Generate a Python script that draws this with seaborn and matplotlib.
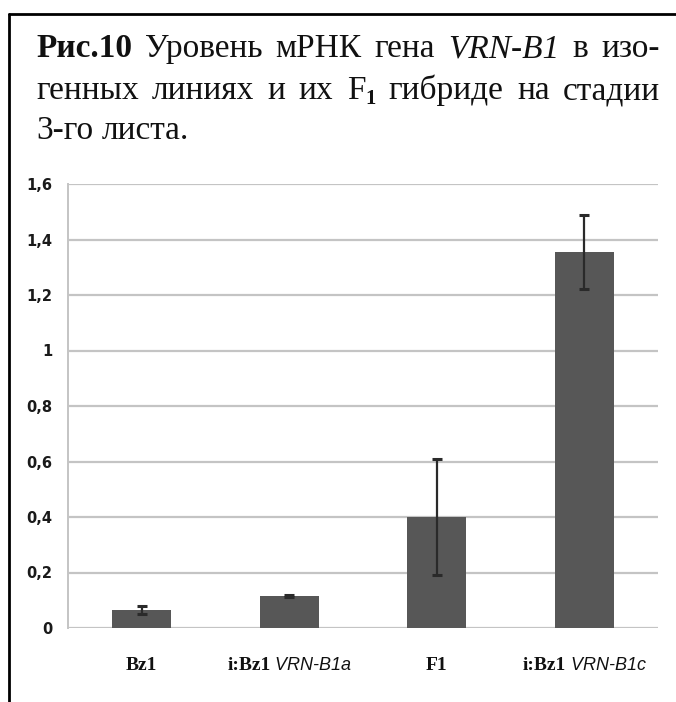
import numpy as np
import matplotlib
matplotlib.use('Agg')
import matplotlib.pyplot as plt
from matplotlib.lines import Line2D
import seaborn as sns

categories = ['Bz1', 'i:Bz1 VRN-B1a', 'F1', 'i:Bz1 VRN-B1c']
values = [0.065, 0.115, 0.40, 1.355]
errors = [0.013, 0.003, 0.21, 0.135]
yticks = [0, 0.2, 0.4, 0.6, 0.8, 1, 1.2, 1.4, 1.6]
ytick_labels = ['0', '0,2', '0,4', '0,6', '0,8', '1', '1,2', '1,4', '1,6']

# label fragments: (text, style)
xlabel_parts = [
    [('Bz1', 'b')],
    [('i:Bz1', 'b'), (' VRN-B1a', 'i')],
    [('F1', 'b')],
    [('i:Bz1', 'b'), (' VRN-B1c', 'i')],
]
# title words: (text, style), justified per line
title_lines = [
    [('Рис.10', 'b'), ('Уровень', 'n'), ('мРНК', 'n'), ('гена', 'n'), ('VRN-B1', 'i'), ('в', 'n'), ('изо-', 'n')],
    [('генных', 'n'), ('линиях', 'n'), ('и', 'n'), ('их', 'n'), (['F', '1'], 'sub'), ('гибриде', 'n'), ('на', 'n'), ('стадии', 'n')],
    [('3-го', 'n'), ('листа.', 'n')],
]
title_baselines = [57, 99, 139]
title_justify = [True, True, False]

W, H = 676, 702
sns.set_style('white')
fig = plt.figure(figsize=(W / 100, H / 100), dpi=100)
ax = fig.add_axes([68 / W, 1 - 628 / H, 590 / W, 444 / H])

sns.barplot(x=categories, y=values, color='#575757', saturation=1, width=0.4,
            errorbar=None, edgecolor='#575757', linewidth=0, ax=ax, zorder=3)
ax.errorbar(np.arange(len(values)), values, yerr=errors, fmt='none',
            ecolor='#2a2a2a', elinewidth=1.6, capsize=3.5, capthick=2.2, zorder=4)

ax.set_xlim(-0.5, 3.5)
ax.set_ylim(0, 1.6)
ax.set_yticks(yticks)
ax.set_yticklabels(ytick_labels, fontfamily=['Liberation Sans Narrow', 'DejaVu Sans'],
                   fontweight='bold', fontsize=10.5, color='#1a1a1a')
ax.set_xticks([])
ax.yaxis.grid(True, color='#c4c4c4', linewidth=1.6, zorder=0)
ax.set_axisbelow(True)
for s in ['top', 'right', 'bottom']:
    ax.spines[s].set_visible(False)
ax.spines['left'].set_color('#c4c4c4')
ax.spines['left'].set_linewidth(1.4)
ax.tick_params(axis='y', length=5, width=1.4, color='#c4c4c4', pad=6)
ax.set_xlabel('')
ax.set_ylabel('')

serif = ['Liberation Serif', 'DejaVu Serif']
sans = ['Liberation Sans', 'DejaVu Sans']
styles = {'b': dict(family=serif, weight='bold', size=24),
          'n': dict(family=serif, size=24),
          'i': dict(family=serif, style='italic', size=24),
          'sb': dict(family=serif, weight='bold', size=15)}
styles_lab = {'b': dict(family=serif, weight='bold', size=14),
              'i': dict(family=sans, style='italic', size=13)}

fig.canvas.draw()
renderer = fig.canvas.get_renderer()


def put(txt, st, sty, dy=0):
    t = fig.text(0, 0, txt, va='baseline', ha='left', color='#111111', **sty[st])
    return t, t.get_window_extent(renderer).width, dy


# width of one space in the title font
probe = put('a a', 'n', styles)[1] - put('aa', 'n', styles)[1]
fig.texts[-1].set_visible(False)
fig.texts[-2].set_visible(False)

# title lines, words spread out to the right edge
for words, yb, just in zip(title_lines, title_baselines, title_justify):
    groups = []
    for w, st in words:
        if st == 'sub':
            groups.append([put(w[0], 'n', styles), put(w[1], 'sb', styles, -5)])
        else:
            groups.append([put(w, st, styles)])
    widths = [sum(g[1] for g in grp) for grp in groups]
    gap = (660 - 36 - sum(widths)) / (len(groups) - 1) if just else probe
    x = 36
    for grp, gw in zip(groups, widths):
        xx = x
        for t, w, dy in grp:
            t.set_position((xx / W, 1 - (yb - dy) / H))
            xx += w
        x += gw + gap

# category labels under the bars
for i, parts in enumerate(xlabel_parts):
    px = ax.transData.transform((i, 0))[0]
    items = [put(p, st, styles_lab) for p, st in parts]
    x = px - sum(w for _, w, _ in items) / 2
    for t, w, _ in items:
        t.set_position((x / W, 1 - 670 / H))
        x += w

# outer frame (cropped on right and bottom)
fig.add_artist(Line2D([8.5 / W, 8.5 / W], [0, 1 - 13.5 / H], color='black', linewidth=2))
fig.add_artist(Line2D([8.5 / W, 1], [1 - 13.5 / H, 1 - 13.5 / H], color='black', linewidth=2))

fig.savefig('out.png', dpi=100)
